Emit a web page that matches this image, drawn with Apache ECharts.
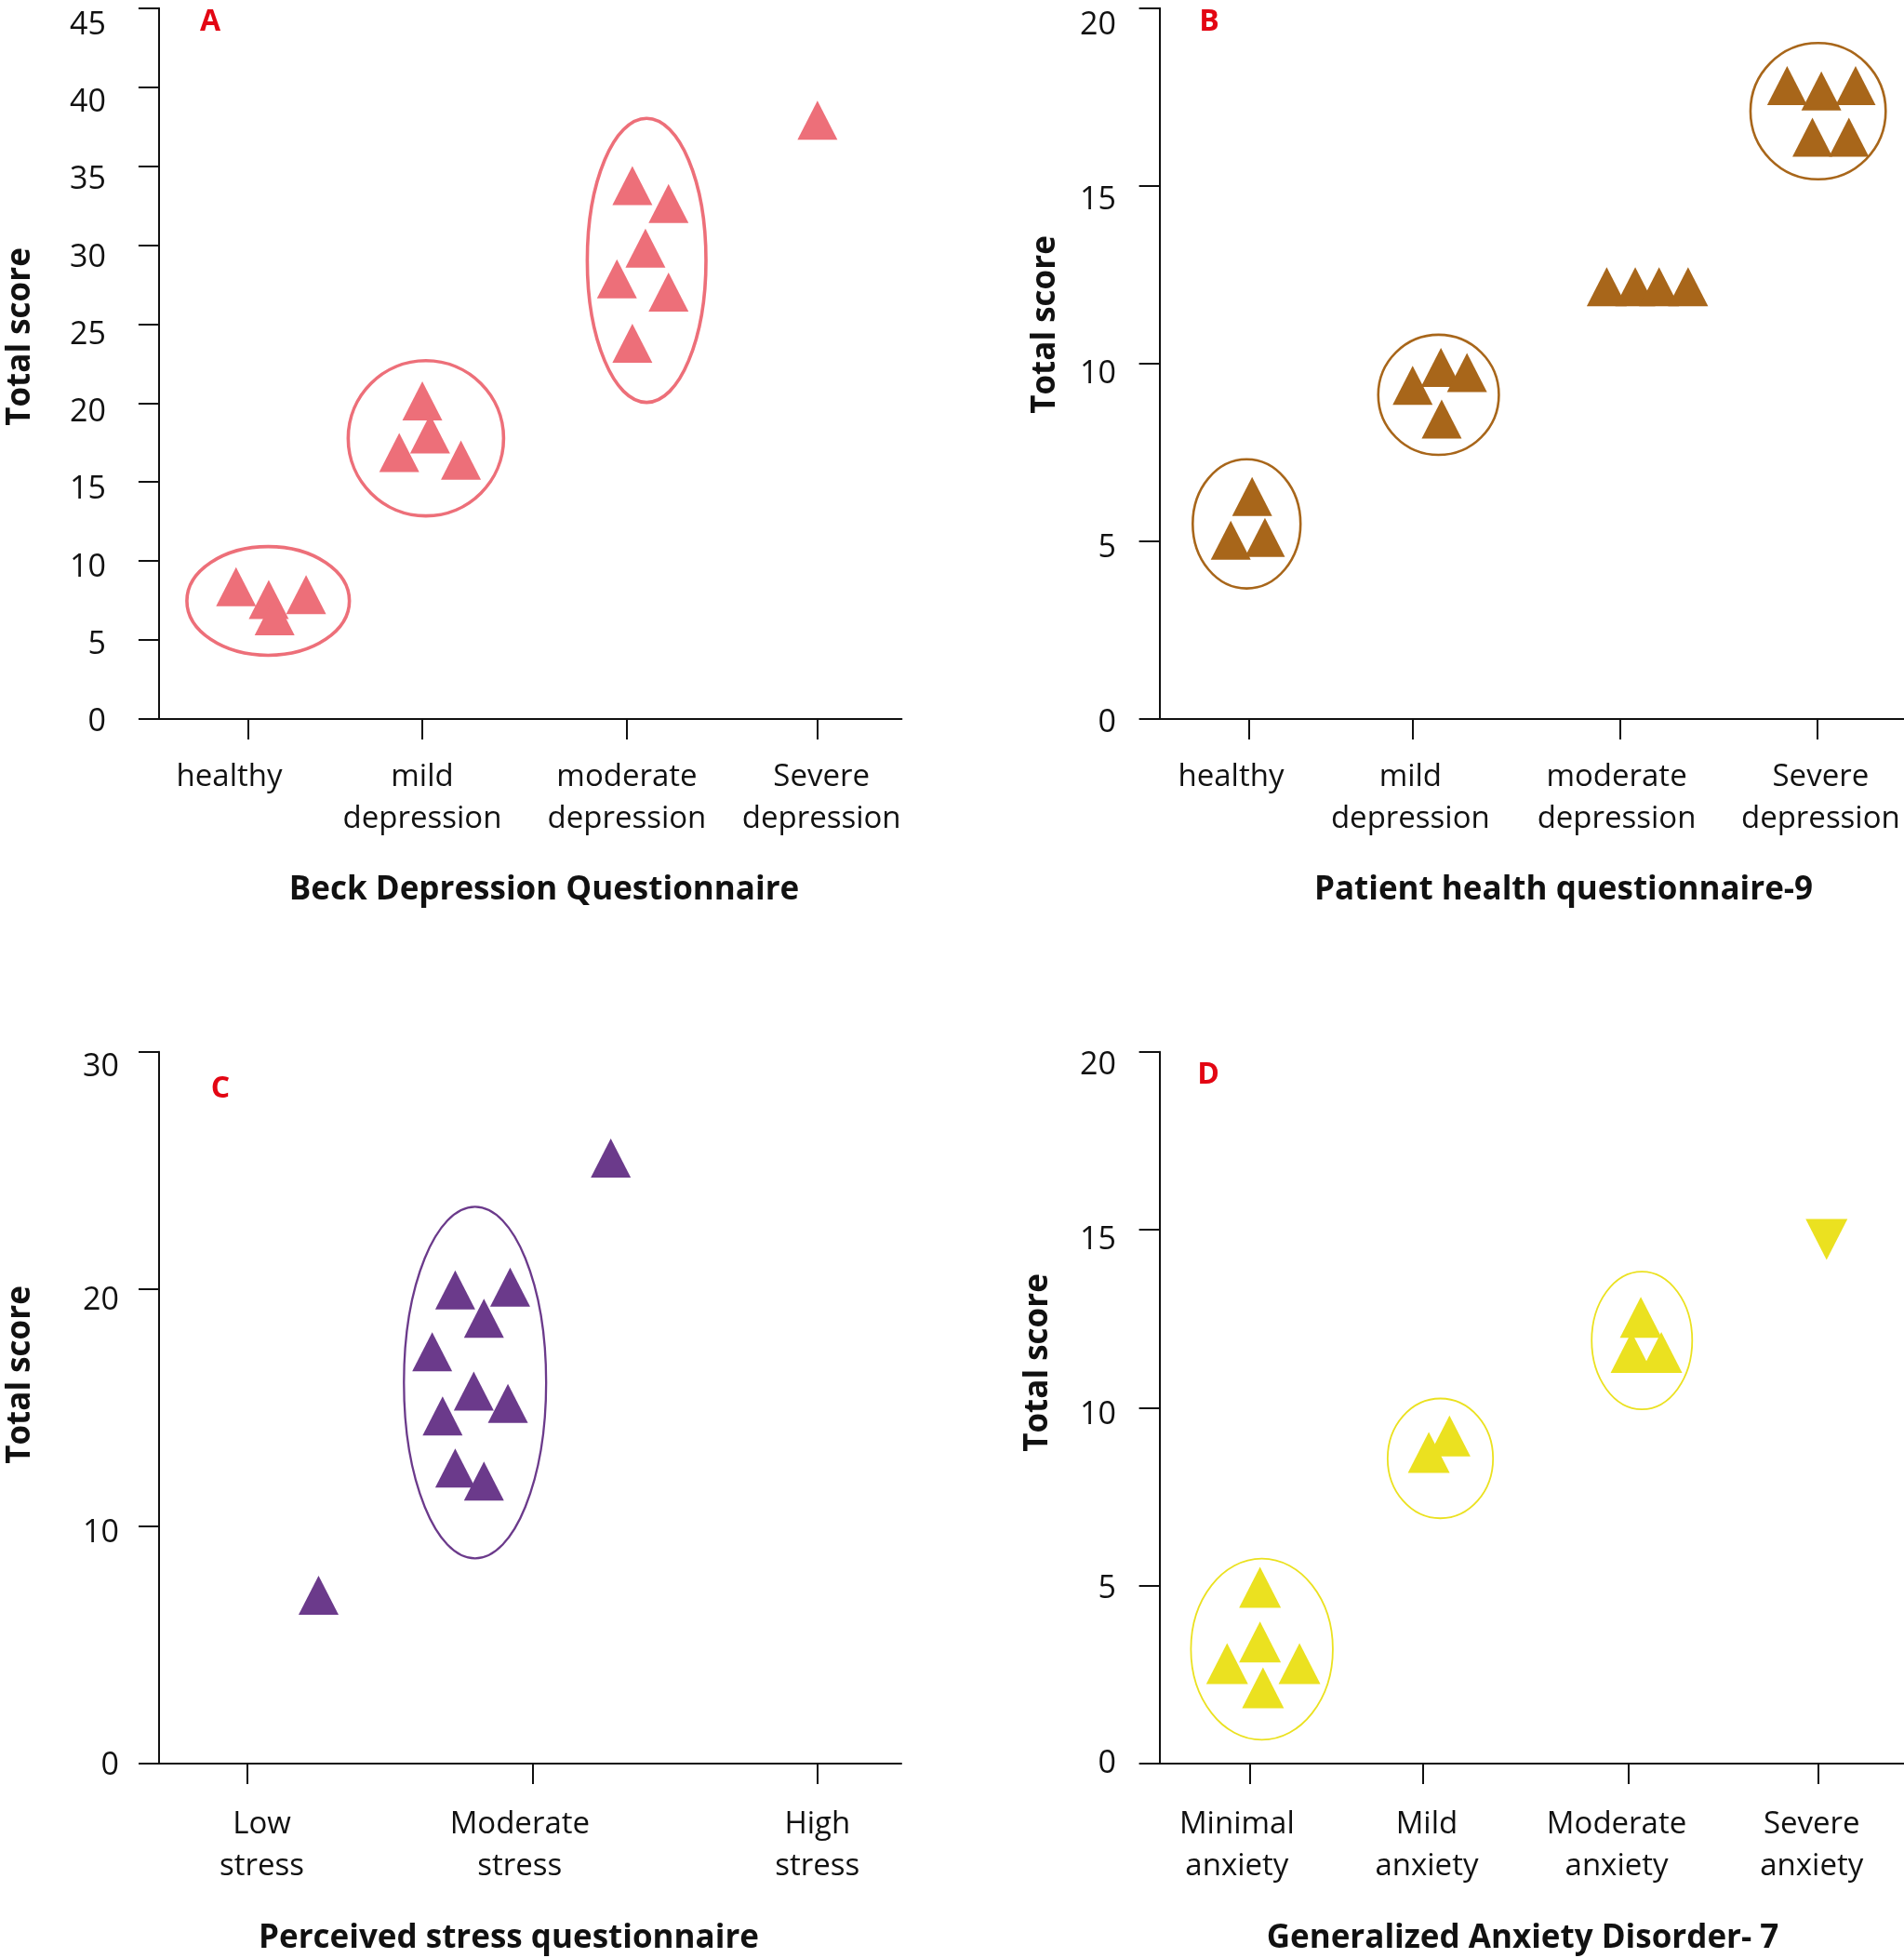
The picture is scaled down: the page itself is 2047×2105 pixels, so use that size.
<!DOCTYPE html>
<html>
<head>
<meta charset="utf-8">
<script src="https://cdn.jsdelivr.net/npm/echarts@6/dist/echarts.min.js"></script>
<style>
html, body { margin: 0; padding: 0; background: #fff; }
#chart { width: 2047px; height: 2105px; }
</style>
</head>
<body>
<div id="chart"></div>
<script>
// x runs 0..10 along each panel's horizontal axis, y is the total score

// A - Beck Depression Questionnaire
var beckNames = ['healthy', 'mild\ndepression', 'moderate\ndepression', 'Severe\ndepression'];
var beckTicks = [1.198, 3.546, 6.302, 8.866];
var beckLabelAt = [0.947, 3.545, 6.30, 8.92];
var beckScores = [
	[1.038, 8.38], [1.478, 7.57], [1.981, 7.87], [1.557, 6.54],
	[3.546, 20.14], [3.65, 18.04], [3.235, 16.87], [4.066, 16.39],
	[6.374, 33.77], [6.861, 32.63], [6.55, 29.81], [6.166, 27.86], [6.861, 27.03], [6.374, 23.78],
	[8.866, 37.9]
];
// groups: [centre x, centre y, half width, half height]
var beckGroups = [[1.47, 7.475, 1.094, 3.44], [3.594, 17.77, 1.046, 4.91], [6.566, 29.03, 0.799, 8.99]];

// B - Patient health questionnaire-9
var phqNames = ['healthy', 'mild\ndepression', 'moderate\ndepression', 'Severe\ndepression'];
var phqTicks = [1.203, 3.40, 6.19, 8.84];
var phqLabelAt = [0.96, 3.37, 6.14, 8.88];
var phqScores = [
	[1.244, 6.26], [0.957, 5.03], [1.416, 5.11],
	[3.78, 9.89], [4.13, 9.75], [3.40, 9.39], [3.79, 8.44],
	[6.007, 12.16], [6.39, 12.16], [6.71, 12.16], [7.10, 12.16],
	[8.43, 17.82], [8.89, 17.67], [9.35, 17.82], [8.77, 16.37], [9.26, 16.37]
];
var phqGroups = [[1.17, 5.49, 0.724, 1.816], [3.748, 9.12, 0.81, 1.69], [8.846, 17.10, 0.908, 1.916]];

// C - Perceived stress questionnaire
var pssNames = ['Low\nstress', 'Moderate\nstress', 'High\nstress'];
var pssTicks = [1.19, 5.035, 8.866];
var pssLabelAt = [1.385, 4.86, 8.87];
var pssScores = [
	[2.149, 7.10], [6.086, 25.52],
	[3.99, 19.97], [4.73, 20.08], [4.377, 18.77], [3.68, 17.36], [4.24, 15.70],
	[4.70, 15.18], [3.82, 14.65], [3.99, 12.46], [4.377, 11.91]
];
var pssGroups = [[4.257, 16.06, 0.958, 7.41]];

// D - Generalized Anxiety Disorder-7
var gadNames = ['Minimal\nanxiety', 'Mild\nanxiety', 'Moderate\nanxiety', 'Severe\nanxiety'];
var gadTicks = [1.21, 3.54, 6.30, 8.85];
var gadLabelAt = [1.04, 3.59, 6.14, 8.76];
var gadScores = [
	[1.35, 4.95], [1.35, 3.42], [0.908, 2.81], [1.88, 2.81], [1.39, 2.13],
	[3.617, 8.74], [3.895, 9.21],
	[6.465, 12.54], [6.34, 11.55], [6.74, 11.55]
];
var gadSevere = [[8.96, 14.73]];
var gadGroups = [[1.375, 3.216, 0.953, 2.546], [3.772, 8.576, 0.708, 1.683], [6.48, 11.89, 0.675, 1.935]];

var yLabelsBeck = [0, 5, 10, 15, 20, 25, 30, 35, 40, 45];
var yLabelsPhq = [0, 5, 10, 15, 20];
var yLabelsPss = [0, 10, 20, 30];
var yLabelsGad = [0, 5, 10, 15, 20];

var FONT = "'Open Sans', 'Noto Sans', sans-serif";
var INK = '#111111';

// labelMax: the tick labels sit on a slightly looser scale than the ticks
// labelDrop: how far (px) the tick labels sit below their value
var panels = [
	{ names: beckNames, ticks: beckTicks, labelAt: beckLabelAt, scores: beckScores, groups: beckGroups,
	  yMax: 45, yStep: 5, yLabels: yLabelsBeck, labelMax: 45.9, labelDrop: 3.5,
	  left: 170.9, top: 8.7, width: 798.5, height: 764.3, yMargin: 57, xMargin: 40,
	  color: '#ED6F79', ring: 3.6, mark: [43, 42] },
	{ names: phqNames, ticks: phqTicks, labelAt: phqLabelAt, scores: phqScores, groups: phqGroups,
	  yMax: 20, yStep: 5, yLabels: yLabelsPhq, labelMax: 20.4, labelDrop: 4,
	  left: 1246.6, top: 8.7, width: 800.4, height: 764.3, yMargin: 46.6, xMargin: 40,
	  color: '#A8661A', ring: 2.6, mark: [43, 42] },
	{ names: pssNames, ticks: pssTicks, labelAt: pssLabelAt, scores: pssScores, groups: pssGroups,
	  yMax: 30, yStep: 10, yLabels: yLabelsPss, labelMax: 30.6, labelDrop: 2,
	  left: 171, top: 1130.8, width: 798, height: 765.2, yMargin: 43, xMargin: 43,
	  color: '#6B3A8B', ring: 2.3, mark: [43, 42] },
	{ names: gadNames, ticks: gadTicks, labelAt: gadLabelAt, scores: gadScores, groups: gadGroups,
	  yMax: 20, yStep: 5, yLabels: yLabelsGad, labelMax: 20.4, labelDrop: 0,
	  left: 1246.6, top: 1130.8, width: 800.4, height: 765.2, yMargin: 46.6, xMargin: 43,
	  color: '#EBE120', ring: 1.8, mark: [45, 44], down: gadSevere }
];

function nearest(list, v) {
	var best = 0;
	for (var i = 1; i < list.length; i++) {
		if (Math.abs(list[i] - v) < Math.abs(list[best] - v)) best = i;
	}
	return best;
}

function ellipseRenderer(color, width) {
	return function (params, api) {
		var c = api.coord([api.value(0), api.value(1)]);
		var s = api.size([api.value(2), api.value(3)]);
		return {
			type: 'ellipse',
			shape: { cx: c[0], cy: c[1], rx: s[0], ry: s[1] },
			style: { fill: 'none', stroke: color, lineWidth: width }
		};
	};
}

var option = {
	animation: false,
	grid: [], xAxis: [], yAxis: [], series: [],
	graphic: []
};

panels.forEach(function (p, i) {
	var line = { color: INK, width: 2 };
	option.grid.push({ left: p.left, top: p.top, width: p.width, height: p.height,
		containLabel: false, outerBoundsMode: 'none' });
	option.xAxis.push({
		gridIndex: i, type: 'value', min: 0, max: 10, position: 'bottom',
		splitLine: { show: false },
		axisLine: { show: true, onZero: false, lineStyle: line },
		axisTick: { show: true, customValues: p.ticks, length: 22, lineStyle: line },
		axisLabel: {
			show: true, customValues: p.labelAt, margin: p.xMargin,
			fontSize: 33, lineHeight: 45, color: INK, fontFamily: FONT,
			formatter: function (v) { return p.names[nearest(p.labelAt, v)]; }
		}
	});
	// axis carrying ticks and data
	option.yAxis.push({
		gridIndex: i, type: 'value', min: 0, max: p.yMax, interval: p.yStep, position: 'left',
		splitLine: { show: false },
		axisLine: { show: true, onZero: false, lineStyle: line },
		axisTick: { show: true, length: 22, lineStyle: line },
		axisLabel: { show: false }
	});
	// axis carrying only the tick labels
	var yLab = { customValues: p.yLabels, margin: p.yMargin, fontSize: 34, color: INK, fontFamily: FONT };
	if (p.labelDrop > 0) {
		yLab.verticalAlign = 'top';
		yLab.lineHeight = 2 * p.labelDrop;
	}
	option.yAxis.push({
		gridIndex: i, type: 'value', min: 0, max: p.labelMax, position: 'left', offset: 0,
		splitLine: { show: false }, axisLine: { show: false }, axisTick: { show: false },
		axisLabel: yLab
	});
	option.series.push({
		type: 'custom', xAxisIndex: i, yAxisIndex: 2 * i, silent: true, z: 1,
		data: p.groups, renderItem: ellipseRenderer(p.color, p.ring)
	});
	option.series.push({
		type: 'scatter', xAxisIndex: i, yAxisIndex: 2 * i, silent: true, z: 2,
		symbol: 'triangle', symbolSize: p.mark,
		itemStyle: { color: p.color, opacity: 1 },
		data: p.scores
	});
	if (p.down) {
		option.series.push({
			type: 'scatter', xAxisIndex: i, yAxisIndex: 2 * i, silent: true, z: 2,
			symbol: 'triangle', symbolSize: p.mark, symbolRotate: 180,
			itemStyle: { color: p.color, opacity: 1 },
			data: p.down
		});
	}
});

function label(text, x, y, size, color, rotate) {
	return {
		type: 'text', x: x, y: y, rotation: rotate ? Math.PI / 2 : 0, silent: true,
		style: { text: text, fill: color, font: 'bold ' + size + 'px ' + FONT,
			textAlign: 'center', textVerticalAlign: 'middle' }
	};
}

option.graphic = [
	label('A', 226, 24, 32, '#E30613'),
	label('B', 1300, 24, 32, '#E30613'),
	label('C', 237, 1171, 32, '#E30613'),
	label('D', 1299, 1156, 32, '#E30613'),
	label('Total score', 22, 362, 35, INK, true),
	label('Total score', 1124, 349, 35, INK, true),
	label('Total score', 22, 1478, 35, INK, true),
	label('Total score', 1116, 1465, 35, INK, true),
	label('Beck Depression Questionnaire', 585, 957, 35, INK),
	label('Patient health questionnaire-9', 1681, 957, 35, INK),
	label('Perceived stress questionnaire', 547, 2084, 35, INK),
	label('Generalized Anxiety Disorder- 7', 1637, 2084, 35, INK)
];

var myChart = echarts.init(document.getElementById('chart'));
myChart.setOption(option);
</script>
</body>
</html>
